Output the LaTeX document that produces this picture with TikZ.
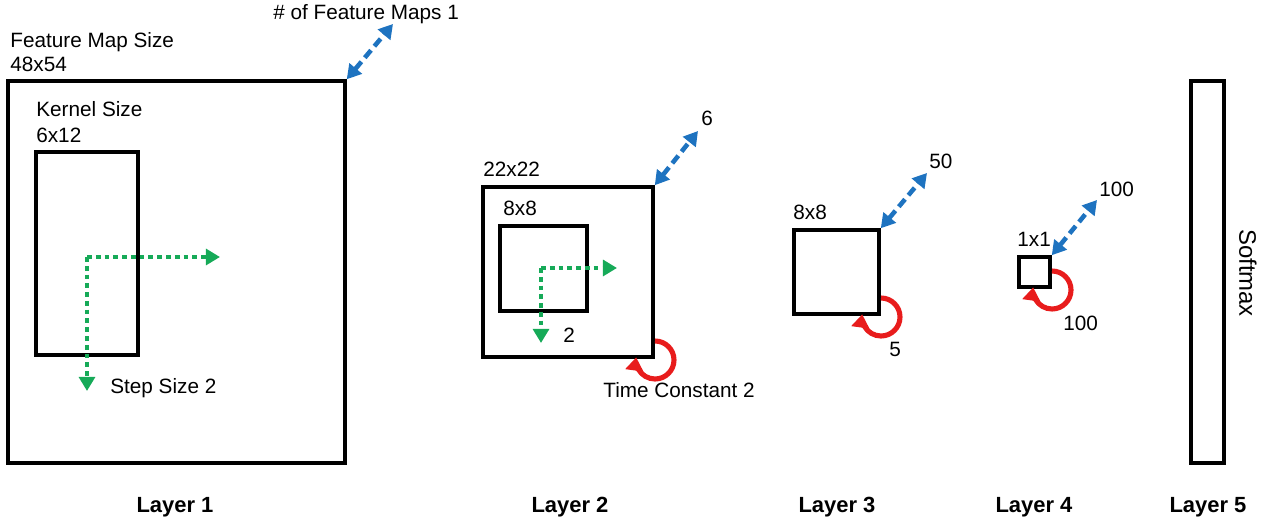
\documentclass[tikz,border=0pt]{standalone}
\usepackage{fontspec}
\setmainfont{Liberation Sans}
\usetikzlibrary{arrows.meta,fit,calc}
\definecolor{fmblue}{RGB}{30,115,192}
\definecolor{stgreen}{RGB}{22,170,88}
\definecolor{tcred}{RGB}{232,28,28}
\begin{document}
\begin{tikzpicture}[x=0.02cm,y=-0.02cm,
  box/.style={draw=black,line width=2pt,inner sep=0pt},
  lbl/.style={inner sep=0pt,font=\fontsize{11.8pt}{14pt}\selectfont},
  layerlbl/.style={inner sep=0pt,anchor=base,font=\fontsize{12.5pt}{15pt}\selectfont\bfseries},
  fmarrow/.style={draw=fmblue,line width=2.6pt,dash pattern=on 5.5pt off 3pt,
    {Triangle[length=8pt,width=9pt]}-{Triangle[length=8pt,width=9pt]}},
  stparrow/.style={draw=stgreen,line width=2.7pt,dash pattern=on 2.7pt off 2.3pt,
    -{Triangle[length=8pt,width=9pt]}},
  tcarrow/.style={draw=tcred,line width=2.9pt,-{Triangle[length=7.5pt,width=10pt]}}]
\useasboundingbox (0,0) rectangle (1277,526);

% ---------- Layer 1 ----------
\coordinate (l1a) at (8,81);
\coordinate (l1b) at (345,463);
\node[box,fit=(l1a)(l1b)] (L1) {};
\coordinate (k1a) at (36,152);
\coordinate (k1b) at (138,355);
\node[box,fit=(k1a)(k1b)] (K1) {};
\coordinate (g1) at (87,257);
\coordinate (g1r) at (220,257);
\coordinate (g1d) at (87,391);
\draw[stparrow] (g1) -- (g1r);
\draw[stparrow] (g1) -- (g1d);
\coordinate (b1) at (393,24);
\draw[fmarrow] (L1.north east) -- (b1);
\node[lbl,anchor=base west] (t1) at (273,20) {\# of Feature Maps 1};
\node[lbl,anchor=base west] (t2) at (10,48) {Feature Map Size};
\node[lbl,anchor=base west] (t3) at (10,72) {48x54};
\node[lbl,anchor=base west] (t4) at (36,117) {Kernel Size};
\node[lbl,anchor=base west] (t5) at (36,143) {6x12};
\node[lbl,anchor=base west] (t6) at (110,394) {Step Size 2};

% ---------- Layer 2 ----------
\coordinate (l2a) at (483,187);
\coordinate (l2b) at (653,357);
\node[box,fit=(l2a)(l2b)] (L2) {};
\coordinate (k2a) at (500,226);
\coordinate (k2b) at (587,311);
\node[box,fit=(k2a)(k2b)] (K2) {};
\coordinate (g2) at (541,268);
\coordinate (g2r) at (617,268);
\coordinate (g2d) at (541,343);
\draw[stparrow] (g2) -- (g2r);
\draw[stparrow] (g2) -- (g2d);
\coordinate (b2) at (698,131);
\draw[fmarrow] (L2.north east) -- (b2);
\coordinate (c2) at (655,360);
\draw[tcarrow] ($(c2)+(0,-19)$) arc[start angle=-90,end angle=188,radius=19];
\node[lbl,anchor=base west] (t7) at (483,177) {22x22};
\node[lbl,anchor=base west] (t8) at (503,216) {8x8};
\node[lbl,anchor=base west] (t9) at (563,343) {2};
\node[lbl,anchor=base west] (t10) at (701,126) {6};
\node[lbl,anchor=base west] (t11) at (603,398) {Time Constant 2};

% ---------- Layer 3 ----------
\coordinate (l3a) at (794,230);
\coordinate (l3b) at (879,314);
\node[box,fit=(l3a)(l3b)] (L3) {};
\coordinate (b3) at (927,173);
\draw[fmarrow] (L3.north east) -- (b3);
\coordinate (c3) at (881,317);
\draw[tcarrow] ($(c3)+(0,-19)$) arc[start angle=-90,end angle=188,radius=19];
\node[lbl,anchor=base west] (t12) at (793,220) {8x8};
\node[lbl,anchor=base west] (t13) at (929,169) {50};
\node[lbl,anchor=base west] (t14) at (889,357) {5};

% ---------- Layer 4 ----------
\coordinate (l4a) at (1019,257);
\coordinate (l4b) at (1050,287);
\node[box,fit=(l4a)(l4b)] (L4) {};
\coordinate (b4) at (1097,200);
\draw[fmarrow] (L4.north east) -- (b4);
\coordinate (c4) at (1052,290);
\draw[tcarrow] ($(c4)+(0,-19)$) arc[start angle=-90,end angle=188,radius=19];
\node[lbl,anchor=base west] (t15) at (1017,247) {1x1};
\node[lbl,anchor=base west] (t16) at (1099,197) {100};
\node[lbl,anchor=base west] (t17) at (1063,331) {100};

% ---------- Layer 5 ----------
\coordinate (l5a) at (1191,81);
\coordinate (l5b) at (1224,463);
\node[box,fit=(l5a)(l5b)] (L5) {};
\node[inner sep=0pt,rotate=-90,font=\fontsize{13.6pt}{16pt}\selectfont] (sm) at (1248,273) {Softmax};

% ---------- Layer labels ----------
\node[layerlbl] (n1) at (175,512) {Layer 1};
\node[layerlbl] (n2) at (570,512) {Layer 2};
\node[layerlbl] (n3) at (837,512) {Layer 3};
\node[layerlbl] (n4) at (1034,512) {Layer 4};
\node[layerlbl] (n5) at (1208,512) {Layer 5};
\end{tikzpicture}
\end{document}
